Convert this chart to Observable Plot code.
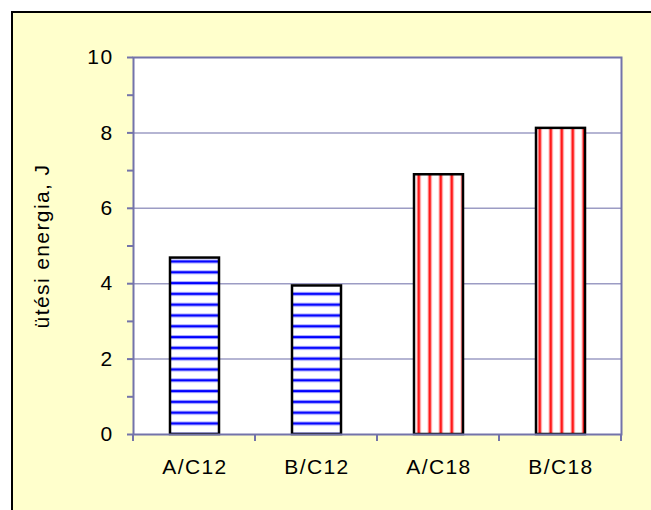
<!DOCTYPE html>
<html>
<head>
<meta charset="utf-8">
<script src="https://cdn.jsdelivr.net/npm/d3@7"></script>
<script src="https://cdn.jsdelivr.net/npm/@observablehq/plot@0.6"></script>
<style>
  html, body { margin: 0; padding: 0; background: #ffffff; }
  #wrap { position: relative; width: 651px; height: 510px; overflow: hidden; }
  #panel { position: absolute; left: 11px; top: 11px; width: 660px; height: 520px;
           background: #FFFFCC; border-left: 2px solid #000; border-top: 2px solid #000; }
  #chart { position: absolute; left: 0; top: 0; }
  #chart text { letter-spacing: 1.4px; }
</style>
</head>
<body>
<div id="wrap"><div id="panel"></div><div id="chart"></div></div>
<script>
const categories = ["A/C12", "B/C12", "A/C18", "B/C18"];
const values = [4.68, 3.94, 6.89, 8.12];
const groups = ["C12", "C12", "C18", "C18"];
const yMajorTicks = [0, 2, 4, 6, 8, 10];
const yMinorTicks = [1, 3, 5, 7, 9];
const gridValues = [2, 4, 6, 8];
const yLabel = "ütési energia, J";

const data = categories.map((c, i) => ({cat: c, value: values[i], group: groups[i]}));

const axisColor = "#7373aa";
const gridColor = "#9c9cc4";
const font = "'Liberation Sans', Arial, sans-serif";

const boundaryTicks = (index, scales, values, dims) => {
  const g = d3.create("svg:g");
  const n = categories.length;
  const w = dims.width - dims.marginLeft - dims.marginRight;
  const y0 = dims.height - dims.marginBottom;
  for (let i = 0; i <= n; i++) {
    const x = dims.marginLeft + i * w / n;
    g.append("line").attr("x1", x).attr("x2", x).attr("y1", y0).attr("y2", y0 + 7)
      .attr("stroke", axisColor).attr("stroke-width", 2);
  }
  return g.node();
};

const chart = Plot.plot({
  width: 651,
  height: 510,
  marginLeft: 133,
  marginRight: 30,
  marginTop: 57,
  marginBottom: 76,
  style: {background: "transparent", fontFamily: font, fontSize: "21px", color: "#000"},
  x: {domain: categories, paddingInner: 0.6, paddingOuter: 0.3, label: null, axis: null},
  y: {domain: [0, 10], label: null, axis: null},
  marks: [
    Plot.frame({fill: "white", stroke: "none"}),
    Plot.ruleY(gridValues, {stroke: gridColor, strokeWidth: 1.5}),
    Plot.barY(data.filter(d => d.group === "C12"), {x: "cat", y: "value", fill: "url(#hstripe)", stroke: "#000", strokeWidth: 2.5}),
    Plot.barY(data.filter(d => d.group === "C18"), {x: "cat", y: "value", fill: "url(#vstripe)", stroke: "#000", strokeWidth: 2.5}),
    Plot.frame({stroke: axisColor, strokeWidth: 2}),
    Plot.axisY({ticks: yMajorTicks, tickSize: 6, tickPadding: 14, stroke: axisColor, strokeWidth: 2, fill: "#000",
                label: yLabel, labelAnchor: "center", labelOffset: 99, labelArrow: "none"}),
    Plot.axisY({ticks: yMinorTicks, tickSize: 6, tickFormat: () => "", stroke: axisColor, strokeWidth: 2, label: null}),
    Plot.axisX({tickSize: 0, tickPadding: 25, fill: "#000", label: null}),
    boundaryTicks
  ]
});

// Stripe patterns for the bars
const svg = d3.select(chart.tagName.toLowerCase() === "svg" ? chart : chart.querySelector("svg"));
const defs = svg.insert("defs", ":first-child");
const ph = defs.append("pattern").attr("id", "hstripe").attr("patternUnits", "userSpaceOnUse")
  .attr("x", 0).attr("y", 256.5).attr("width", 20).attr("height", 10.8);
ph.append("rect").attr("width", 20).attr("height", 10.8).attr("fill", "#fff");
ph.append("rect").attr("y", 3).attr("width", 20).attr("height", 4).attr("fill", "#a6a6ff");
ph.append("rect").attr("y", 4).attr("width", 20).attr("height", 2).attr("fill", "#0000ff");
const pv = defs.append("pattern").attr("id", "vstripe").attr("patternUnits", "userSpaceOnUse")
  .attr("x", 413.3).attr("y", 0).attr("width", 11).attr("height", 20);
pv.append("rect").attr("width", 11).attr("height", 20).attr("fill", "#fff");
pv.append("rect").attr("x", 3.5).attr("width", 4).attr("height", 20).attr("fill", "#ffa6a6");
pv.append("rect").attr("x", 4.5).attr("width", 2).attr("height", 20).attr("fill", "#ff0000");

document.getElementById("chart").appendChild(chart);
</script>
</body>
</html>
